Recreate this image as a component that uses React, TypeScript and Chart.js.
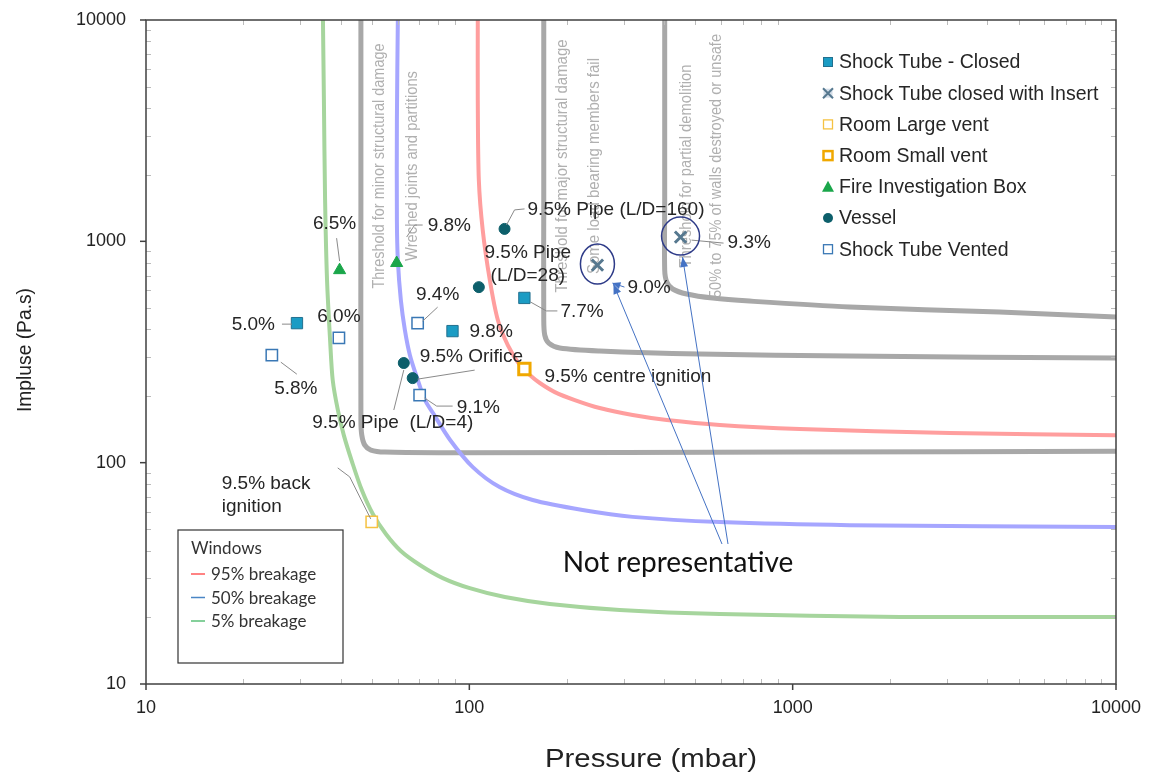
import React, { useEffect, useRef } from 'react';
import { Chart, registerables } from 'chart.js';

Chart.register(...registerables);

const W = 1159;
const H = 774;

// Axis tick labels (decades)
const xTickValues = [10, 100, 1000, 10000];
const yTickValues = [10, 100, 1000, 10000];

// Experimental series (pressure in mbar, impulse in Pa.s)
const shockClosedP = [29.3, 88.7, 148];
const shockClosedI = [427, 393, 555];
const shockClosedText = ['5.0%', '9.8%', '7.7%'];

const insertP = [249, 450];
const insertI = [781, 1045];
const insertText = ['9.0%', '9.3%'];

const roomLargeP = [49.9];
const roomLargeI = [54];
const roomLargeText = ['9.5% back\nignition'];

const roomSmallP = [148];
const roomSmallI = [265];
const roomSmallText = ['9.5% centre ignition'];

const fireP = [39.7, 59.6];
const fireI = [741, 798];
const fireText = ['6.5%', '9.8%'];

const vesselP = [128.5, 107, 62.7, 66.8];
const vesselI = [1138, 621, 282, 241];
const vesselText = ['9.5% Pipe (L/D=160)', '9.5% Pipe\n(L/D=28)', '9.5% Pipe  (L/D=4)', '9.5% Orifice'];

const ventedP = [24.5, 39.5, 69.2, 70.2];
const ventedI = [306, 366, 427, 202];
const ventedText = ['5.8%', '6.0%', '9.4%', '9.1%'];

// Building damage threshold curves (grey)
const minorP = [46.2, 46.2, 46.2, 46.5, 47.5, 49.6, 54.8, 87.1, 1051, 10000];
const minorI = [10000, 1537, 156, 133, 120, 114, 111.6, 111, 111.6, 112.5];

const majorP = [169.9, 169.9, 169.9, 171.1, 176.1, 190.4, 253, 516, 1501, 10000];
const majorI = [10000, 1537, 441, 377, 347, 329.6, 319.5, 309.6, 303, 297];

const partialP = [402, 402, 402, 408, 425.6, 470, 566, 736, 1501, 4364, 10000];
const partialI = [10000, 1537, 742, 655, 609, 578, 554, 537, 505, 479, 455];

// Window breakage curves
const w95P = [106.2, 106.2, 107, 110, 115.7, 122.5, 131.5, 143.3, 153.8, 165.2, 183.8, 211.9, 253, 320, 408, 595, 1051, 3058, 10000];
const w95I = [10000, 4350, 1892, 1125, 669, 441, 340, 276, 249, 229, 208.4, 191.8, 176.5, 164.1, 155.8, 147.9, 141.9, 136, 133];

const w50P = [60.1, 59.7, 59.7, 60.1, 61.4, 63.2, 65.5, 69.3, 72.9, 77.1, 87.1, 102.5, 124, 157, 224, 320, 595, 1501, 10000];
const w50I = [10000, 3533, 1248, 823, 543, 397, 306, 236, 192, 168, 127, 95.5, 77.6, 67.8, 61.1, 56.9, 53.9, 52.2, 51.2];

const w5P = [35.26, 35.5, 35.8, 36.3, 37.1, 37.8, 39.2, 40.9, 43.4, 46.5, 50.3, 55.2, 61.4, 70.3, 82.8, 100.3, 128.8, 177.4, 292, 595, 2142, 10000];
const w5I = [10000, 4350, 1537, 669, 358, 236, 173, 133.2, 100.6, 75.2, 58.6, 47.6, 39.9, 34.5, 30.1, 27.1, 24.7, 23.0, 21.6, 20.7, 20.1, 20.1];

const legendNames = [
  'Shock Tube - Closed',
  'Shock Tube closed with Insert',
  'Room Large vent',
  'Room Small vent',
  'Fire Investigation Box',
  'Vessel',
  'Shock Tube Vented',
];
const windowLegendTitle = 'Windows';
const windowLegendNames = ['95% breakage', '50% breakage', '5% breakage'];
const thresholdTexts = [
  'Threshold for minor structural damage',
  'Wreched joints and partitions',
  'Threshold for major structural damage',
  'Some load bearing members fail',
  'Threshold for partial demolition',
  '50% to 75% of walls destroyed or unsafe',
];
const noteText = 'Not representative';
const xTitle = 'Pressure (mbar)';
const yTitle = 'Impluse (Pa.s)';

const C = {
  shockFill: '#1b9cc4',
  shockEdge: '#22708f',
  insert: '#56788f',
  roomLarge: '#f5c242',
  roomSmall: '#f0a800',
  fire: '#1aa64a',
  vessel: '#0d5f6b',
  vented: '#3a78b5',
  grey: '#a8a8a8',
  red: '#ff9e9e',
  blue: '#a6a6ff',
  green: '#a6d59d',
  text: '#262626',
  leader: '#8a8a8a',
  arrow: '#4472c4',
  ring: '#2e3b88',
};

const pts = (P: number[], I: number[]) => P.map((p, i) => ({ x: p, y: I[i] }));

const series: Record<string, { P: number[]; I: number[]; T: string[] }> = {
  shockClosed: { P: shockClosedP, I: shockClosedI, T: shockClosedText },
  insert: { P: insertP, I: insertI, T: insertText },
  roomLarge: { P: roomLargeP, I: roomLargeI, T: roomLargeText },
  roomSmall: { P: roomSmallP, I: roomSmallI, T: roomSmallText },
  fire: { P: fireP, I: fireI, T: fireText },
  vessel: { P: vesselP, I: vesselI, T: vesselText },
  vented: { P: ventedP, I: ventedI, T: ventedText },
};

type Ann = {
  ds: string;
  idx: number;
  dx: number;
  dy: number;
  align: CanvasTextAlign;
  leader?: number[][];
  arrow?: boolean;
};

const annotations: Ann[] = [
  { ds: 'shockClosed', idx: 0, dx: -22, dy: 2, align: 'right', leader: [[-15, 1], [-5, 1]] },
  { ds: 'shockClosed', idx: 1, dx: 17, dy: 1, align: 'left' },
  { ds: 'shockClosed', idx: 2, dx: 36, dy: 14, align: 'left', leader: [[6, 4], [22, 13], [33, 13]] },
  { ds: 'insert', idx: 0, dx: 30, dy: 23, align: 'left', leader: [[27, 22], [15, 18]], arrow: true },
  { ds: 'insert', idx: 1, dx: 47, dy: 6, align: 'left', leader: [[11, 3], [43, 6]] },
  { ds: 'roomLarge', idx: 0, dx: -150, dy: -38, align: 'left', leader: [[-34, -54], [-22, -45], [-1, -3]] },
  { ds: 'roomSmall', idx: 0, dx: 20, dy: 8, align: 'left' },
  { ds: 'fire', idx: 0, dx: -5, dy: -46, align: 'center', leader: [[-3, -32], [0, -9]] },
  { ds: 'fire', idx: 1, dx: 31, dy: -37, align: 'left', leader: [[10, -26], [18, -38], [26, -38]] },
  { ds: 'vessel', idx: 0, dx: 23, dy: -19, align: 'left', leader: [[2, -4], [10, -19], [20, -20]] },
  { ds: 'vessel', idx: 1, dx: 49, dy: -34, align: 'center' },
  { ds: 'vessel', idx: 2, dx: -11, dy: 60, align: 'center', leader: [[0, 7], [-10, 47]] },
  { ds: 'vessel', idx: 3, dx: 7, dy: -21, align: 'left', leader: [[5, 1], [62, -8]] },
  { ds: 'vented', idx: 0, dx: 24, dy: 34, align: 'center', leader: [[9, 7], [25, 19]] },
  { ds: 'vented', idx: 1, dx: 0, dy: -21, align: 'center' },
  { ds: 'vented', idx: 2, dx: 20, dy: -28, align: 'center', leader: [[5, -2], [20, -16]] },
  { ds: 'vented', idx: 3, dx: 37, dy: 13, align: 'left', leader: [[5, 3], [17, 11], [33, 11]] },
];

function drawArrowHead(ctx: CanvasRenderingContext2D, fx: number, fy: number, tx: number, ty: number, len = 9, wid = 3.5) {
  const a = Math.atan2(ty - fy, tx - fx);
  ctx.beginPath();
  ctx.moveTo(tx, ty);
  ctx.lineTo(tx - len * Math.cos(a) + wid * Math.sin(a), ty - len * Math.sin(a) - wid * Math.cos(a));
  ctx.lineTo(tx - len * Math.cos(a) - wid * Math.sin(a), ty - len * Math.sin(a) + wid * Math.cos(a));
  ctx.closePath();
  ctx.fill();
}

function legendMarker(ctx: CanvasRenderingContext2D, k: number, x: number, y: number) {
  ctx.save();
  const s = 9;
  switch (k) {
    case 0:
      ctx.fillStyle = C.shockFill;
      ctx.strokeStyle = C.shockEdge;
      ctx.lineWidth = 1;
      ctx.fillRect(x - s / 2, y - s / 2, s, s);
      ctx.strokeRect(x - s / 2, y - s / 2, s, s);
      break;
    case 1:
      ctx.fillStyle = '#d3dde8';
      ctx.fillRect(x - s / 2, y - s / 2, s, s);
      ctx.strokeStyle = C.insert;
      ctx.lineWidth = 2;
      ctx.beginPath();
      ctx.moveTo(x - 5, y - 5);
      ctx.lineTo(x + 5, y + 5);
      ctx.moveTo(x + 5, y - 5);
      ctx.lineTo(x - 5, y + 5);
      ctx.stroke();
      break;
    case 2:
      ctx.strokeStyle = C.roomLarge;
      ctx.lineWidth = 1.3;
      ctx.strokeRect(x - s / 2, y - s / 2, s, s);
      break;
    case 3:
      ctx.strokeStyle = C.roomSmall;
      ctx.lineWidth = 2.5;
      ctx.strokeRect(x - s / 2, y - s / 2, s, s);
      break;
    case 4:
      ctx.fillStyle = C.fire;
      ctx.beginPath();
      ctx.moveTo(x, y - 6);
      ctx.lineTo(x + 6, y + 5);
      ctx.lineTo(x - 6, y + 5);
      ctx.closePath();
      ctx.fill();
      break;
    case 5:
      ctx.fillStyle = C.vessel;
      ctx.beginPath();
      ctx.arc(x, y, 5, 0, Math.PI * 2);
      ctx.fill();
      break;
    case 6:
      ctx.strokeStyle = C.vented;
      ctx.lineWidth = 1.3;
      ctx.strokeRect(x - s / 2, y - s / 2, s, s);
      break;
  }
  ctx.restore();
}

const isDecade = (v: number) => {
  const l = Math.log10(v);
  return Math.abs(l - Math.round(l)) < 1e-9;
};

function stretchedText(ctx: CanvasRenderingContext2D, t: string, x: number, y: number, len: number, rot = 0) {
  const m = ctx.measureText(t).width;
  ctx.save();
  ctx.translate(x, y);
  if (rot) ctx.rotate(rot);
  ctx.scale(len / m, 1);
  ctx.textAlign = 'center';
  ctx.fillText(t, 0, 0);
  ctx.restore();
}

const overlayPlugin = {
  id: 'overlay',
  beforeDraw(chart: any) {
    const ctx = chart.ctx as CanvasRenderingContext2D;
    ctx.save();
    ctx.fillStyle = '#fff';
    ctx.fillRect(0, 0, chart.width, chart.height);
    ctx.restore();
  },
  beforeDatasetsDraw(chart: any) {
    const ctx = chart.ctx as CanvasRenderingContext2D;
    const xs = chart.scales.x;
    const ca = chart.chartArea;
    const a1 = xs.getPixelForValue(minorP[0]);
    const a2 = xs.getPixelForValue(majorP[0]);
    const a3 = xs.getPixelForValue(partialP[0]);
    const places = [
      [a1 + 19, 245], [a1 + 52, 190], [a2 + 19, 253], [a2 + 51, 216], [a3 + 22, 203], [a3 + 52, 264],
    ];
    ctx.save();
    ctx.fillStyle = '#b0b0b0';
    ctx.font = '16px "Liberation Sans Narrow", "Liberation Sans", Arial';
    ctx.textBaseline = 'middle';
    thresholdTexts.forEach((t, i) => {
      const [x, len] = places[i];
      stretchedText(ctx, t, x, ca.top + 146, len, -Math.PI / 2);
    });
    ctx.restore();
  },
  afterDraw(chart: any) {
    const ctx = chart.ctx as CanvasRenderingContext2D;
    const xs = chart.scales.x;
    const ys = chart.scales.y;
    const ca = chart.chartArea;
    ctx.save();

    // axis frame and ticks
    ctx.strokeStyle = '#bbbbbb';
    ctx.lineWidth = 1;
    for (const d of [10, 100, 1000]) {
      for (let m = 2; m <= 9; m++) {
        const v = d * m;
        const x = Math.round(xs.getPixelForValue(v)) + 0.5;
        const y = Math.round(ys.getPixelForValue(v)) + 0.5;
        ctx.beginPath();
        ctx.moveTo(x, ca.bottom);
        ctx.lineTo(x, ca.bottom - 5);
        ctx.moveTo(x, ca.top);
        ctx.lineTo(x, ca.top + 5);
        ctx.moveTo(ca.left, y);
        ctx.lineTo(ca.left + 5, y);
        ctx.moveTo(ca.right, y);
        ctx.lineTo(ca.right - 5, y);
        ctx.stroke();
      }
    }
    ctx.strokeStyle = '#404040';
    ctx.lineWidth = 1.5;
    ctx.strokeRect(ca.left, ca.top, ca.right - ca.left, ca.bottom - ca.top);
    for (const v of xTickValues) {
      const x = xs.getPixelForValue(v);
      ctx.beginPath();
      ctx.moveTo(x, ca.bottom);
      ctx.lineTo(x, ca.bottom + 6);
      ctx.stroke();
    }
    for (const v of yTickValues) {
      const y = ys.getPixelForValue(v);
      ctx.beginPath();
      ctx.moveTo(ca.left - 6, y);
      ctx.lineTo(ca.left, y);
      ctx.stroke();
    }

    // annotations
    ctx.font = '19px "Liberation Sans", Arial';
    ctx.textBaseline = 'middle';
    for (const a of annotations) {
      const s = series[a.ds];
      const px = xs.getPixelForValue(s.P[a.idx]);
      const py = ys.getPixelForValue(s.I[a.idx]);
      if (a.leader) {
        ctx.strokeStyle = a.arrow ? C.arrow : C.leader;
        ctx.fillStyle = C.arrow;
        ctx.lineWidth = 1;
        ctx.beginPath();
        a.leader.forEach(([lx, ly], k) => {
          if (k === 0) ctx.moveTo(px + lx, py + ly);
          else ctx.lineTo(px + lx, py + ly);
        });
        ctx.stroke();
        if (a.arrow) {
          const n = a.leader.length;
          drawArrowHead(ctx, px + a.leader[n - 2][0], py + a.leader[n - 2][1], px + a.leader[n - 1][0], py + a.leader[n - 1][1], 8, 3.5);
        }
      }
      ctx.fillStyle = C.text;
      ctx.textAlign = a.align;
      const lines = s.T[a.idx].split('\n');
      lines.forEach((ln, k) => ctx.fillText(ln, px + a.dx, py + a.dy + k * 23));
    }

    // rings around non-representative points and arrows
    const ip = insertP.map((p, i) => [xs.getPixelForValue(p), ys.getPixelForValue(insertI[i])]);
    const radii = [[17, 20], [19, 19]];
    ctx.strokeStyle = C.ring;
    ctx.lineWidth = 1.5;
    ip.forEach(([x, y], i) => {
      ctx.beginPath();
      ctx.ellipse(x, y - 1, radii[i][0], radii[i][1], 0, 0, Math.PI * 2);
      ctx.stroke();
    });
    const noteX = ca.left + 532;
    const noteY = ca.top + 543;
    const tips = [[ip[0][0] + 16, ip[0][1] + 19], [ip[1][0] + 2, ip[1][1] + 20]];
    const origins = [[noteX + 44, noteY - 19], [noteX + 50, noteY - 19]];
    ctx.strokeStyle = C.arrow;
    ctx.fillStyle = C.arrow;
    ctx.lineWidth = 1;
    tips.forEach(([tx, ty], i) => {
      const [ox, oy] = origins[i];
      ctx.beginPath();
      ctx.moveTo(ox, oy);
      ctx.lineTo(tx, ty);
      ctx.stroke();
      drawArrowHead(ctx, ox, oy, tx, ty, 10, 4);
    });
    ctx.fillStyle = '#111';
    ctx.font = '28px Lato, "Open Sans", sans-serif';
    ctx.textAlign = 'center';
    ctx.textBaseline = 'middle';
    ctx.fillText(noteText, noteX, noteY);

    // series legend (top right)
    ctx.font = '19.5px "Liberation Sans", Arial';
    ctx.textAlign = 'left';
    ctx.fillStyle = C.text;
    legendNames.forEach((n, i) => {
      const y = ca.top + 42 + i * 31.2;
      legendMarker(ctx, i, ca.left + 682, y);
      ctx.fillStyle = C.text;
      ctx.fillText(n, ca.left + 693, y + 1);
    });

    // windows legend (bottom left)
    const bx = ca.left + 32;
    const by = ca.top + 510;
    ctx.strokeStyle = '#333';
    ctx.lineWidth = 1.2;
    ctx.strokeRect(bx, by, 165, 133);
    ctx.font = '17px Lato, "Open Sans", sans-serif';
    ctx.fillStyle = '#333';
    ctx.fillText(windowLegendTitle, bx + 13, by + 19);
    const swatch = ['#ff5a5a', '#4a86c5', '#5cc07a'];
    windowLegendNames.forEach((n, i) => {
      const y = by + 44 + i * 23.5;
      ctx.strokeStyle = swatch[i];
      ctx.lineWidth = 1.5;
      ctx.beginPath();
      ctx.moveTo(bx + 13, y);
      ctx.lineTo(bx + 27, y);
      ctx.stroke();
      ctx.fillStyle = '#333';
      ctx.fillText(n, bx + 33, y + 1);
    });

    // axis titles
    ctx.fillStyle = '#222';
    ctx.font = '26px "Liberation Sans", Arial';
    stretchedText(ctx, xTitle, 651, 760, 212);
    ctx.font = '21px "Liberation Sans", Arial';
    stretchedText(ctx, yTitle, 25, 350, 124, -Math.PI / 2);

    ctx.restore();
  },
};

export default function App() {
  const ref = useRef<HTMLCanvasElement>(null);

  useEffect(() => {
    const canvas = ref.current;
    if (!canvas) return;
    const curve = (P: number[], I: number[], color: string, width: number) => ({
      type: 'scatter' as const,
      data: pts(P, I),
      showLine: true,
      pointRadius: 0,
      borderColor: color,
      backgroundColor: color,
      borderWidth: width,
      tension: 0.3,
      order: 2,
    });
    const chart = new Chart(canvas, {
      type: 'scatter',
      data: {
        datasets: [
          { label: legendNames[0], data: pts(shockClosedP, shockClosedI), pointStyle: 'rect', pointRadius: 8, backgroundColor: C.shockFill, borderColor: C.shockEdge, borderWidth: 1, order: 0 },
          { label: legendNames[1], data: pts(insertP, insertI), pointStyle: 'crossRot', pointRadius: 8, backgroundColor: C.insert, borderColor: C.insert, borderWidth: 3, order: 0 },
          { label: legendNames[2], data: pts(roomLargeP, roomLargeI), pointStyle: 'rect', pointRadius: 8, backgroundColor: '#fff', borderColor: C.roomLarge, borderWidth: 1.5, order: 0 },
          { label: legendNames[3], data: pts(roomSmallP, roomSmallI), pointStyle: 'rect', pointRadius: 8, backgroundColor: '#fff', borderColor: C.roomSmall, borderWidth: 3, order: 0 },
          { label: legendNames[4], data: pts(fireP, fireI), pointStyle: 'triangle', pointRadius: 7, backgroundColor: C.fire, borderColor: C.fire, borderWidth: 1, order: 0 },
          { label: legendNames[5], data: pts(vesselP, vesselI), pointStyle: 'circle', pointRadius: 5.5, backgroundColor: C.vessel, borderColor: C.vessel, borderWidth: 1, order: 0 },
          { label: legendNames[6], data: pts(ventedP, ventedI), pointStyle: 'rect', pointRadius: 8, backgroundColor: '#fff', borderColor: C.vented, borderWidth: 1.5, order: 0 },
          curve(w95P, w95I, C.red, 4),
          curve(w50P, w50I, C.blue, 4),
          curve(w5P, w5I, C.green, 4),
          curve(minorP, minorI, C.grey, 5),
          curve(majorP, majorI, C.grey, 5),
          curve(partialP, partialI, C.grey, 5),
        ] as any,
      },
      options: {
        responsive: false,
        animation: false,
        devicePixelRatio: 1,
        layout: { padding: { top: 20, right: 43, left: 0, bottom: 0 } },
        plugins: { legend: { display: false }, tooltip: { enabled: false }, title: { display: false } },
        scales: {
          x: {
            type: 'logarithmic',
            min: 10,
            max: 10000,
            grid: { display: false, drawTicks: false },
            border: { display: false },
            afterFit: (s: any) => { s.height = 90; s.paddingLeft = 0; s.paddingRight = 0; },
            ticks: {
              autoSkip: false,
              maxRotation: 0,
              padding: 13,
              color: '#222',
              font: { family: '"Liberation Sans", Arial', size: 18 },
              callback: (v: any) => (isDecade(Number(v)) && xTickValues.includes(Math.round(Number(v))) ? String(Math.round(Number(v))) : ''),
            },
          },
          y: {
            type: 'logarithmic',
            min: 10,
            max: 10000,
            grid: { display: false, drawTicks: false },
            border: { display: false },
            afterFit: (s: any) => { s.width = 146; s.paddingTop = 0; s.paddingBottom = 0; },
            ticks: {
              autoSkip: false,
              padding: 20,
              color: '#222',
              font: { family: '"Liberation Sans", Arial', size: 18 },
              callback: (v: any) => (isDecade(Number(v)) && yTickValues.includes(Math.round(Number(v))) ? String(Math.round(Number(v))) : ''),
            },
          },
        },
      } as any,
      plugins: [overlayPlugin],
    });
    return () => chart.destroy();
  }, []);

  return (
    <div style={{ position: 'absolute', left: 0, top: 0, width: W, height: H, background: '#fff' }}>
      <canvas ref={ref} width={W} height={H} style={{ width: W, height: H, display: 'block' }} />
    </div>
  );
}
